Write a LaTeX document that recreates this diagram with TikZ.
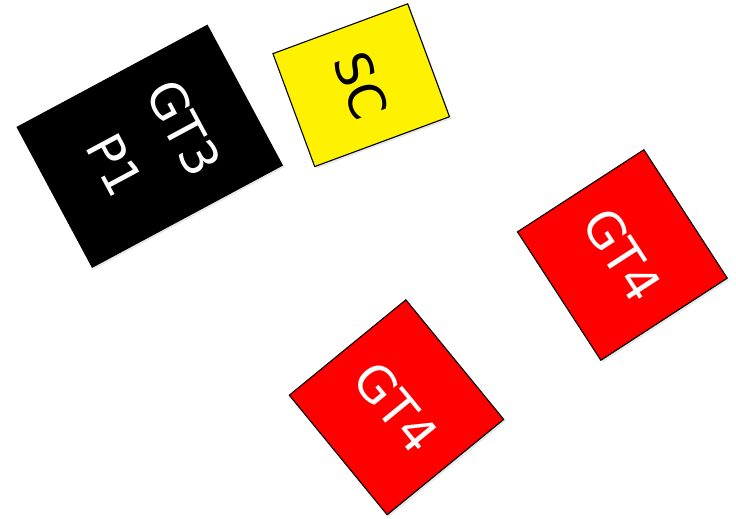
\documentclass[tikz,border=0pt]{standalone}
\usepackage{fontspec}
\setmainfont{DejaVu Sans}
\usetikzlibrary{shadows}
\tikzset{
  card/.style={draw=black, line width=1.1pt, inner sep=0pt, align=center,
    font=\fontsize{50}{78}\selectfont,
    drop shadow={shadow xshift=2pt, shadow yshift=-2pt, opacity=0.18}},
  blackcard/.style={card, fill=black, text=white},
  yellowcard/.style={card, fill=yellow, text=black},
  redcard/.style={card, fill=red, text=white},
}
\begin{document}
\begin{tikzpicture}[x=1pt, y=1pt]
\useasboundingbox (0,0) rectangle (736,519);
\node[blackcard, rotate=-61.8, minimum width=158.8pt, minimum height=215.6pt] (gt3) at (149.75,372.75) {GT3\\P1};
\node[yellowcard, rotate=-69.7, minimum width=120.4pt, minimum height=143.7pt] (sc) at (361.2,433.8) {SC};
\node[redcard, rotate=-57, minimum width=153.1pt, minimum height=150.7pt] (gt4a) at (622.35,264.0) {GT4};
\node[redcard, rotate=-50.7, minimum width=154.5pt, minimum height=150.6pt] (gt4b) at (396.5,111.7) {GT4};
\end{tikzpicture}
\end{document}
